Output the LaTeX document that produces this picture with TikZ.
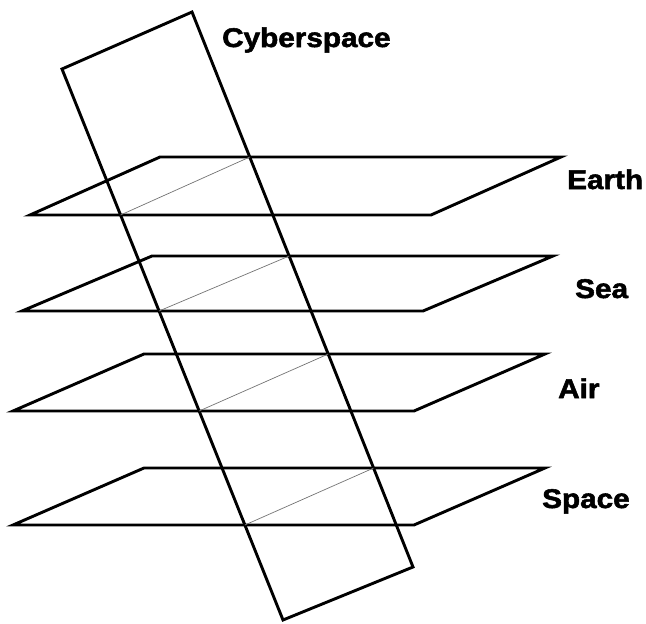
\documentclass[tikz,border=0pt]{standalone}
\usepackage{fontspec}
\newfontfamily\lblfont[FakeStretch=1.1,FakeBold=2]{Liberation Sans}
\usetikzlibrary{calc}
\tikzset{
  dom/cyber/.style={line width=2.9pt, line join=miter},
  dom/plane/.style={line width=2.9pt, line join=miter},
  dom/cut/.style={line width=0.7pt, black!55},
  dom/label/.style={anchor=base west, inner sep=0pt, font=\lblfont\bfseries\fontsize{27}{31}\selectfont}
}

\begin{document}
\begin{tikzpicture}[x=1pt, y=-1pt]
  \useasboundingbox (0,0) rectangle (646,624);
  % cyberspace sheet
  \coordinate (c1) at (62,69);
  \coordinate (c2) at (192,12);
  \coordinate (c3) at (413,567);
  \coordinate (c4) at (283,620);
  \draw[dom/cyber] (c1) -- (c2) -- (c3) -- (c4) -- cycle;
  % the four domains and their cut with the sheet
  \foreach \nm/\xa/\ya/\xb/\yb in {earth/30/215/160/157, sea/22/311/152/256, air/13/411/144/354, space/13/525/144/468}{
    \coordinate (\nm1) at (\xa,\ya);
    \coordinate (\nm2) at (\xb,\yb);
    \coordinate (\nm3) at ($(\nm2)+(401,0)$);
    \coordinate (\nm4) at ($(\nm1)+(401,0)$);
    \draw[dom/plane] (\nm1) -- (\nm2) -- (\nm3) -- (\nm4) -- cycle;
    \draw[dom/cut] (intersection of c1--c4 and \nm1--\nm4) -- (intersection of c2--c3 and \nm2--\nm3);
  }
  \node[dom/label] (cyberlbl) at (222,47) {Cyberspace};
  \node[dom/label] (earthlbl) at (567,189) {Earth};
  \node[dom/label] (sealbl) at (575,298) {Sea};
  \node[dom/label] (airlbl) at (558,398) {Air};
  \node[dom/label] (spacelbl) at (542,508) {Space};
\end{tikzpicture}
\end{document}
